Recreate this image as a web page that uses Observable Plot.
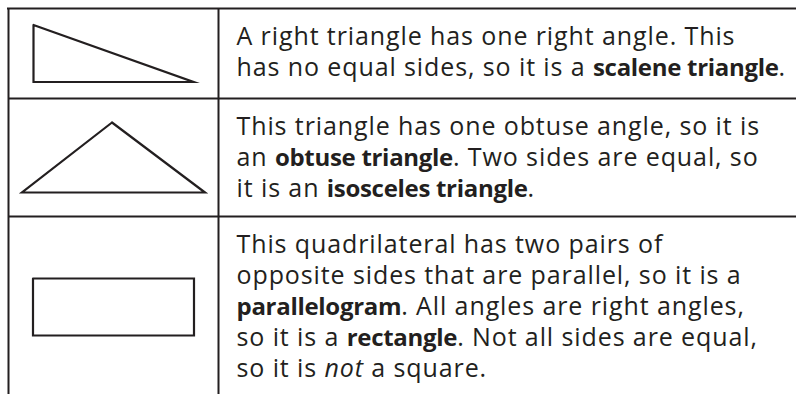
<!DOCTYPE html>
<html>
<head>
<meta charset="utf-8">
<script src="https://cdn.jsdelivr.net/npm/d3@7"></script>
<script src="https://cdn.jsdelivr.net/npm/@observablehq/plot@0.6"></script>
<style>
  html, body { margin: 0; padding: 0; background: #fff; }
  svg { display: block; }
</style>
</head>
<body>
<div id="chart"></div>
<script>
// ---- content ----
const rowTexts = [
  [
    "A right triangle has one right angle. This",
    "has no equal sides, so it is a **scalene triangle**."
  ],
  [
    "This triangle has one obtuse angle, so it is",
    "an **obtuse triangle**. Two sides are equal, so",
    "it is an **isosceles triangle**."
  ],
  [
    "This quadrilateral has two pairs of",
    "opposite sides that are parallel, so it is a",
    "**parallelogram**. All angles are right angles,",
    "so it is a **rectangle**. Not all sides are equal,",
    "so it is _not_ a square."
  ]
];
const shapeNames = ["right triangle", "obtuse triangle", "rectangle"];
// shape outlines in relative units (width, height, apex offset)
const shapeWidths = [160, 183, 161];
const shapeHeights = [57, 70, 57];
const shapeApex = [0, 90, null];

// ---- layout ----
const W = 796, H = 394;
const tblLeft = 8, tblDivider = 218, tblTop = 8;
const rowBounds = [8, 98, 216, 394];
const firstBaseline = 36, lineStep = 31.2, textInset = 18;
const ink = "#231f20";
const shapeCenterX = 113;

function shapePoints(i) {
  const cx = shapeCenterX;
  const cy = (rowBounds[i] + rowBounds[i + 1]) / 2 + (i === 2 ? 1.5 : 0);
  const w = shapeWidths[i], h = shapeHeights[i];
  const x0 = cx - w / 2, x1 = cx + w / 2, y0 = cy - h / 2, y1 = cy + h / 2;
  let pts;
  if (shapeNames[i] === "right triangle") pts = [[x0, y0], [x0, y1], [x1, y1], [x0, y0]];
  else if (shapeNames[i] === "obtuse triangle") pts = [[x0 + shapeApex[i], y0], [x1, y1], [x0, y1], [x0 + shapeApex[i], y0]];
  else pts = [[x0, y0], [x1, y0], [x1, y1], [x0, y1], [x0, y0]];
  return pts.map(([x, y]) => ({shape: shapeNames[i], x, y}));
}
const shapeData = shapeNames.flatMap((_, i) => shapePoints(i));

const textData = rowTexts.flatMap((lines, r) =>
  lines.map((t, k) => ({text: t, x: tblDivider + textInset, y: rowBounds[r] + firstBaseline + k * lineStep}))
);

const hRules = rowBounds.slice(0, 3).map((y, i) => ({y, x1: i === 0 ? tblLeft - 1 : tblLeft, x2: W}));
const vRules = [tblLeft, tblDivider].map(x => ({x, y1: tblTop, y2: H}));

const chart = Plot.plot({
  width: W,
  height: H,
  margin: 0,
  style: {fontFamily: "'Open Sans', sans-serif", background: "#fff"},
  x: {domain: [0, W], range: [0, W], axis: null},
  y: {domain: [0, H], range: [0, H], axis: null},
  marks: [
    Plot.ruleY(hRules, {y: "y", x1: "x1", x2: "x2", stroke: ink, strokeWidth: 2}),
    Plot.ruleX(vRules, {x: "x", y1: "y1", y2: "y2", stroke: ink, strokeWidth: 2}),
    Plot.line(shapeData, {x: "x", y: "y", z: "shape", stroke: ink, strokeWidth: 2.2, strokeLinejoin: "miter", strokeMiterlimit: 20}),
    Plot.text(textData, {x: "x", y: "y", text: "text", textAnchor: "start", lineAnchor: "bottom", fontSize: 25, fill: ink})
  ]
});

// rich-text styling of bold / italic segments
chart.querySelectorAll("text").forEach(el => {
  el.setAttribute("letter-spacing", "0.9");
  const s = el.textContent;
  if (!/\*\*|_/.test(s)) return;
  const parts = s.split(/(\*\*[^*]+\*\*|_[^_]+_)/).filter(p => p.length);
  while (el.firstChild) el.removeChild(el.firstChild);
  for (const p of parts) {
    const ts = document.createElementNS("http://www.w3.org/2000/svg", "tspan");
    if (p.startsWith("**")) {
      ts.textContent = p.slice(2, -2);
      ts.setAttribute("font-weight", "bold");
      ts.setAttribute("font-size", "24");
      ts.setAttribute("letter-spacing", "-0.3");
    }
    else if (p.startsWith("_") && p.endsWith("_")) { ts.textContent = p.slice(1, -1); ts.setAttribute("font-style", "italic"); }
    else ts.textContent = p;
    el.appendChild(ts);
  }
});

document.getElementById("chart").appendChild(chart);
</script>
</body>
</html>
